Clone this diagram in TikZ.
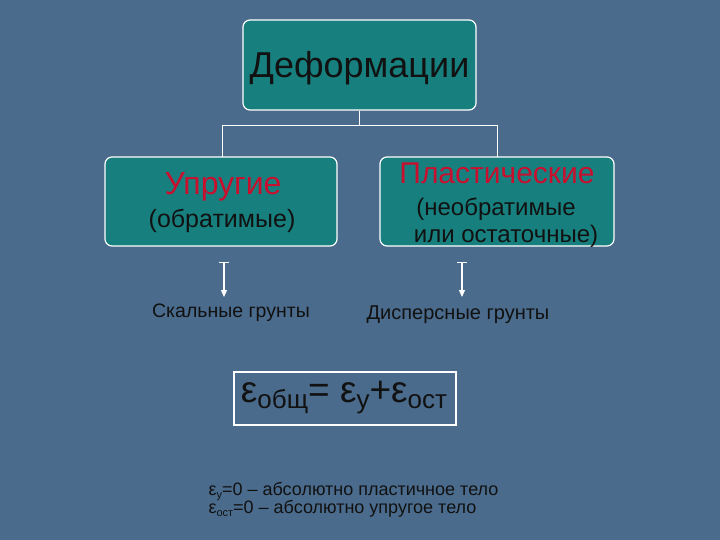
\documentclass[tikz,border=0pt]{standalone}
\usepackage{fontspec}
\setmainfont{Liberation Sans}
\usetikzlibrary{arrows.meta}
\definecolor{bg}{HTML}{4A6B8C}
\definecolor{teal}{HTML}{17807F}
\definecolor{redt}{HTML}{C8102E}
\definecolor{txt}{HTML}{111111}
\tikzset{
 box/.style={draw=white,line width=1.2pt,fill=teal,rounded corners=7pt,inner sep=0pt},
 conn/.style={draw=white,line width=0.9pt},
 arr/.style={draw=white,line width=1.2pt,-{Triangle[length=7pt,width=6pt]}},
 lbl/.style={text=txt,font=\fontsize{19}{21}\selectfont}
}
\begin{document}
\begin{tikzpicture}[x=1pt,y=-1pt]
\fill[bg] (0,0) rectangle (720,540);
\useasboundingbox (0,0) rectangle (720,540);
\node[box,minimum width=233pt,minimum height=90pt] (top) at (359.5,65) {};
\node[text=txt,font=\fontsize{36}{40}\selectfont] (topt) at (359.5,68) {Деформации};
\node[box,minimum width=232pt,minimum height=89pt] (left) at (221,201.5) {};
\node[box,minimum width=234pt,minimum height=89pt] (right) at (497,201.5) {};
\node[text=redt,font=\fontsize{32}{36}\selectfont] (lt1) at (223,187) {Упругие};
\node[lbl,font=\fontsize{25}{28}\selectfont] (lt2) at (222,221) {(обратимые)};
\node[text=redt,font=\fontsize{30}{34}\selectfont] (rt1) at (497,173) {Пластические};
\node[lbl,font=\fontsize{24}{27}\selectfont,align=center] (rt2) at (496,223) {(необратимые\\ \ \ \ или остаточные)};
\coordinate (j) at (359.5,125);
\draw[conn] (top.south) -- (j);
\draw[conn] (222,125) -- (497,125);
\draw[conn] (222,125) -- (222,157);
\draw[conn] (497,125) -- (497,157);
\coordinate (a1) at (224,262);
\coordinate (a2) at (462,262);
\node[lbl,font=\fontsize{19.5}{22}\selectfont] (s1) at (231,313) {Скальные грунты};
\node[lbl,font=\fontsize{20}{22}\selectfont] (s2) at (458,315) {Дисперсные грунты};
\draw[arr] (a1) -- (224,297);
\draw[arr] (a2) -- (462,297);
\draw[conn] (219,262) -- (229,262);
\draw[conn] (457,262) -- (467,262);
\node[draw=white,line width=1.2pt,minimum width=222pt,minimum height=53pt,inner sep=0pt] (f) at (345,398.5) {};
\node[text=txt,font=\fontsize{37}{40}\selectfont] at (344,398) {ε\raisebox{-6pt}{\fontsize{26}{28}\selectfont общ}= ε\raisebox{-6pt}{\fontsize{26}{28}\selectfont у}+ε\raisebox{-6pt}{\fontsize{26}{28}\selectfont ост}};
\node[lbl,anchor=west,font=\fontsize{18}{19}\selectfont,align=left] (n) at (205,500) {ε\raisebox{-3pt}{\fontsize{11}{12}\selectfont у}=0 – абсолютно пластичное тело\\[-1pt]ε\raisebox{-3pt}{\fontsize{11}{12}\selectfont ост}=0 – абсолютно упругое тело};
\end{tikzpicture}
\end{document}
